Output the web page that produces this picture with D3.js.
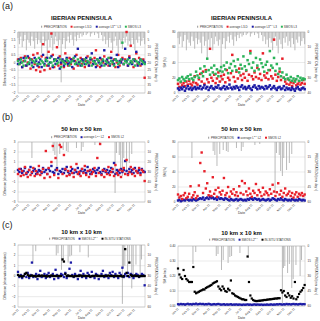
<!DOCTYPE html>
<html lang="en">
<head>
<meta charset="UTF-8">
<title>Soil moisture comparison</title>
<script src="https://d3js.org/d3.v7.min.js"></script>
<style>
  body { margin: 0; background: #fff; }
  svg { display: block; font-family: "Liberation Sans", Arial, sans-serif; }
</style>
</head>
<body>
<div id="chart"></div>
<script>
// one sample every 4 days starting 1 Jan 2011
const startDate = new Date(2011, 0, 1);
const endDate = new Date(2012, 0, 1);
const stepDays = 4;

// (a) Iberian Peninsula, differences
const redA = [0.2,-0.1,0.3,-0.3,0.1,0.4,-0.2,0.0,0.3,-0.4,0.2,0.5,-0.1,-0.5,0.6,-0.3,
  -0.6,0.4,1.2,-0.5,0.3,-0.2,0.7,-0.4,1.9,0.5,-0.3,0.2,1.0,-0.2,0.4,-0.1,
  0.1,-0.3,0.6,0.0,-0.2,0.3,-0.1,0.2,-0.4,0.1,0.5,-0.2,0.0,0.3,-0.1,0.2,
  -0.3,0.1,0.4,-0.2,0.0,0.2,-0.1,0.3,0.8,-0.2,0.1,-0.3,0.2,0.0,0.4,-0.1,
  0.1,-0.2,0.3,0.7,-0.1,0.2,-0.3,0.0,0.5,-0.2,0.1,0.3,-0.1,0.2,2.0,-0.2,
  0.4,1.1,0.0,-0.3,0.2,0.6,-0.1,0.3,-0.2,0.1,0.2,-1.0];
const blueA = [-0.1,0.2,0.0,-0.3,0.3,0.1,-0.2,0.4,-0.1,0.2,0.0,-0.3,0.3,0.1,-0.2,0.0,
  0.2,-0.3,0.5,-0.1,0.1,0.3,-0.2,0.0,0.4,-0.3,0.2,-0.1,0.1,0.3,-0.4,0.0,
  0.2,-0.2,0.1,0.3,-0.1,0.0,0.2,-0.3,0.1,0.4,-0.1,0.9,0.0,-0.2,0.2,0.1,
  -0.1,0.3,0.0,-0.2,0.2,0.6,-0.1,0.1,-0.3,0.2,0.0,0.3,-0.2,0.1,0.8,-0.1,
  0.2,0.0,-0.2,0.3,0.1,-0.1,0.2,0.5,-0.3,0.1,0.0,0.2,-0.1,0.9,0.1,-0.2,
  0.3,0.0,-0.1,0.2,0.1,0.7,-0.2,0.0,0.2,-0.1,0.1,0.0];
const greenA = [0.1,-0.1,0.2,0.0,-0.2,0.1,0.3,-0.1,0.0,0.2,-0.2,0.1,0.0,0.2,-0.1,0.3,
  -0.1,0.1,0.0,-0.2,0.2,0.1,-0.1,0.3,0.0,-0.2,0.1,0.2,-0.1,0.0,0.2,-0.3,
  0.1,0.0,-0.1,0.2,0.1,-0.2,0.0,0.1,0.3,-0.1,0.0,0.2,-0.1,0.1,-0.2,0.0,
  0.2,-0.1,0.1,0.0,0.3,-0.2,0.1,0.0,-0.1,0.2,0.1,-0.1,0.0,0.2,-0.2,0.1,
  0.0,0.3,-0.1,0.1,0.0,-0.2,0.2,0.1,-0.1,0.0,0.2,1.3,-0.1,0.1,0.0,0.2,
  -0.1,0.1,0.0,0.2,-0.2,0.1,0.0,-0.1,0.2,0.1,0.0,-0.1];

// (a) Iberian Peninsula, values
const redAR = [12,8,14,10,13,9,15,11,16,12,10,14,22,13,11,18,
  25,15,28,12,30,18,14,58,20,16,24,13,19,27,15,22,
  18,24,14,30,20,17,26,50,21,15,28,19,32,23,17,25,
  20,29,16,24,55,22,18,27,21,33,19,25,17,52,23,20,
  26,18,30,22,19,70,24,16,21,28,17,45,20,15,12,18,
  11,14,9,13,16,10,12,15,11,13,17,12];
const blueAR = [6,4,7,5,8,3,6,9,5,7,4,6,8,5,7,6,
  9,5,7,10,6,8,4,7,9,6,5,8,7,10,6,5,
  7,9,5,8,6,11,7,5,8,6,9,7,4,8,10,6,
  8,5,7,9,6,4,8,10,7,5,9,6,8,7,5,9,
  6,8,10,5,7,9,6,4,7,8,5,6,9,4,7,5,
  6,4,7,5,3,6,8,5,4,6,7,5];
const greenAR = [17,19,15,21,18,16,20,22,18,24,19,17,21,28,23,20,
  32,26,22,35,28,45,30,24,33,27,36,25,31,22,29,34,
  28,36,31,40,26,33,38,29,42,35,30,44,27,37,32,48,
  35,30,43,38,52,33,40,29,46,36,31,44,39,34,28,37,
  41,30,55,36,33,46,29,38,25,32,22,27,20,18,24,19,
  17,21,16,19,15,18,22,16,20,17,19,18];

// (b) 50 km x 50 km
const blueB = [0.2,0.0,0.3,-0.1,0.1,0.4,-0.2,0.0,0.2,0.5,-0.1,0.1,0.3,-0.2,0.0,0.2,
  0.1,-0.1,0.4,0.0,0.2,-0.2,0.3,0.1,0.6,0.0,-0.1,0.2,0.4,-0.2,0.1,0.0,
  0.3,-0.1,0.2,0.5,0.0,-0.2,0.1,0.3,-0.1,0.2,0.0,0.4,-0.2,0.1,0.3,0.0,
  0.2,-0.1,0.5,0.1,-0.2,0.0,0.3,0.1,-0.1,0.2,0.4,0.0,-0.2,0.1,0.3,0.0,
  0.2,-0.1,0.1,0.4,0.0,0.9,-0.2,0.2,0.1,-0.1,0.3,0.0,0.2,1.1,0.1,-0.2,
  0.3,0.0,0.2,-0.1,0.4,0.1,0.0,0.2,-0.1,0.3,0.1,0.0];
const redB = [-0.2,0.3,-0.4,0.1,-0.3,0.5,-0.1,-0.5,0.2,-0.3,0.0,0.4,-0.4,0.1,-0.2,0.6,
  -0.3,0.0,0.3,-0.6,2.1,-0.2,0.4,-0.5,1.0,2.6,-0.3,1.4,0.2,-0.6,2.7,2.5,
  -0.2,1.7,0.3,-0.4,0.1,-0.3,0.5,-0.1,-0.5,0.2,0.8,-0.2,0.0,-0.4,0.3,-0.1,
  0.6,-0.3,0.1,-0.5,0.2,-0.2,0.0,0.4,-0.4,1.4,-0.1,2.8,-0.3,0.2,-0.5,0.1,
  -0.2,0.5,-0.3,0.0,0.3,-0.4,0.7,-0.1,-0.3,0.2,-0.5,0.1,0.4,-0.2,1.2,-0.3,
  0.0,0.5,-0.2,0.3,-0.4,0.1,-0.1,0.4,-0.3,0.2,0.0,-0.9];
const blueBR = [2,3,1,2,3,2,4,3,2,3,2,4,3,2,3,4,
  5,4,6,3,5,6,4,7,5,6,4,5,3,6,4,5,
  4,3,5,4,3,2,4,3,2,3,4,2,3,4,3,2,
  3,2,4,3,5,4,3,5,4,3,4,2,3,4,3,2,
  3,4,2,3,5,4,3,2,4,3,5,3,2,4,3,2,
  3,2,4,3,2,3,2,4,3,2,3,2];
const redBR = [10,6,8,4,9,12,5,7,11,21,6,9,13,5,8,22,
  52,66,12,41,18,25,9,14,8,33,11,16,7,19,13,10,
  15,32,9,12,20,7,14,11,17,9,13,8,21,12,28,10,
  25,14,9,18,11,7,15,12,24,9,16,13,8,19,10,14,
  12,9,17,11,23,14,8,13,25,10,15,7,12,18,9,11,
  14,8,12,6,10,13,7,11,9,12,8,10];

// (c) 10 km x 10 km
const blueC = [0.4,-0.1,0.1,-0.2,0.0,0.2,-0.1,0.3,-0.2,0.1,1.3,-0.1,0.0,0.2,-0.3,0.1,
  0.5,-0.1,0.0,0.2,-0.2,0.1,0.3,-0.1,0.0,0.2,-0.3,0.6,0.1,-0.2,0.0,0.2,
  0.1,-0.1,0.3,-0.2,0.0,0.7,1.3,0.1,-0.1,0.2,0.0,-0.3,0.1,0.5,-0.1,0.2,
  0.0,-0.2,0.3,0.1,-0.1,0.4,0.0,-0.2,0.2,0.1,-0.3,0.0,0.2,0.5,-0.1,0.1,
  0.0,-0.2,0.3,0.1,0.4,-0.1,0.2,0.0,-0.2,0.3,0.1,0.8,-0.1,0.2,0.0,0.3,
  -0.1,0.2,0.1,-0.2,0.0,0.2,0.1,-0.1,0.0,0.2,0.1,-0.9];
const blackC = [0.1,0.0,0.0,-0.05,0.0,0.2,0.3,0.1,0.0,0.0,0.05,0.0,0.0,-0.05,0.0,0.0,
  0.0,0.05,0.0,0.0,0.0,-0.05,0.0,0.0,0.05,0.0,0.0,0.0,0.0,0.0,0.0,0.0,
  1.6,1.4,0.2,0.0,0.05,0.0,0.0,0.0,-0.05,0.0,0.0,0.0,0.0,0.05,0.0,0.0,
  0.0,0.0,0.0,0.0,-0.05,0.0,0.0,0.0,0.05,0.0,0.0,0.0,0.0,0.0,0.0,0.0,
  0.0,0.05,0.0,0.0,0.0,0.0,0.0,0.0,0.0,0.0,0.0,-0.05,0.0,2.6,0.3,0.0,
  1.3,0.1,0.0,0.0,0.05,0.0,0.0,-0.05,0.0,0.0,0.0,0.0];
const blueCR = [0.012,0.010,0.014,0.011,0.013,0.009,0.012,0.015,0.011,0.013,0.010,0.014,0.012,0.016,0.011,0.013,
  0.015,0.012,0.014,0.010,0.013,0.011,0.015,0.012,0.009,0.011,0.013,0.010,0.012,0.014,0.011,0.009,
  0.010,0.012,0.008,0.011,0.009,0.010,0.012,0.008,0.010,0.009,0.011,0.008,0.010,0.009,0.007,0.010,
  0.008,0.009,0.011,0.008,0.010,0.007,0.009,0.011,0.008,0.010,0.009,0.008,0.010,0.007,0.009,0.008,
  0.010,0.008,0.009,0.011,0.008,0.010,0.009,0.012,0.010,0.013,0.011,0.009,0.012,0.010,0.014,0.011,
  0.013,0.010,0.012,0.014,0.011,0.013,0.010,0.012,0.014,0.011,0.013,0.012];
const blackCR = [0.25,0.21,0.19,0.18,0.24,0.20,0.18,0.17,0.16,0.16,0.16,0.26,
  0.095,0.085,0.09,0.095,0.10,0.105,0.11,0.11,0.12,0.125,0.13,0.135,0.14,0.15,0.155,0.16,0.165,
  0.13,0.115,0.105,0.13,0.115,0.10,0.095,0.115,0.105,0.17,0.085,0.08,0.07,0.065,0.06,0.055,0.05,0.045,0.045,0.04,0.04,
  0.33,0.16,0.07,0.05,0.04,0.035,
  0.033,0.033,0.035,0.035,0.037,0.038,0.04,0.04,0.042,0.043,0.045,0.045,0.047,0.048,0.05,0.05,0.052,0.052,
  0.105,0.09,0.10,0.07,0.06,0.085,0.07,0.055,0.065,0.05,0.16,0.045,0.06,0.08,0.095,0.105,0.12,0.14];

// precipitation (mm/day)
const precipA = [4,8,3,10,6,2,12,5,7,9,3,6,11,4,8,5,
  7,14,3,9,6,18,5,10,4,12,8,3,6,9,5,33,
  8,4,11,6,3,7,2,5,9,3,6,2,4,1,3,2,
  0,2,1,0,3,1,0,2,0,1,4,0,2,6,3,8,
  5,10,4,7,12,6,3,9,14,5,8,11,4,7,3,9,
  6,10,4,8,12,5,7,3,9,6,4,8];
const precipADays = precipA.map((_, i) => i * stepDays);
const precipBDays = [40,101,106,112,120,130,139,144,168,182,187,221,235,279,283,291,295,300,304,312,320,327];
const precipBmm   = [16,9,13,24,12,8,9,10,6,9,5,3,2,51,11,13,29,34,16,28,21,12];
const precipCDays = [43,51,110,115,125,130,144,149,154,178,202,300,303,307,315,320,327,331,339,351,355];
const precipCmm   = [18,6,10,8,24,14,17,11,10,7,12,57,22,20,27,18,42,33,19,30,14];

const RED = '#e8202a', BLUE = '#1c1ca6', GREEN = '#2bb35a', BLACK = '#000', GREY = '#a8a8a8';

const svg = d3.select('#chart').append('svg')
  .attr('width', 320).attr('height', 321);

const fmt1 = d => d3.format('.1~f')(d);

const panels = [
  { x0: 18, x1: 145, y0: 32, y1: 93, yDomain: [-2, 2], yStep: 0.5, yFmt: fmt1,
    pMax: 40, pStep: 5, pDays: precipADays, pMm: precipA,
    series: [[redA, RED], [blueA, BLUE], [greenA, GREEN]], size: 2.4,
    title: 'IBERIAN PENINSULA', titleY: 20, legY: 27, legX: 41, dateY: 106,
    yTitle: 'Difference (observations/estimates)',
    legend: [{ c: GREY, bar: true, t: 'PRECIPITATION' }, { c: RED, t: 'average L3-D' },
             { c: BLUE, t: 'average L3', sup: '2.x', post: '   L3' }, { c: GREEN, t: 'SMOS L3' }] },
  { x0: 178, x1: 305, y0: 32, y1: 93, yDomain: [0, 80], yStep: 20, yFmt: d3.format('d'),
    pMax: 40, pStep: 10, pDays: precipADays, pMm: precipA,
    series: [[redAR, RED], [blueAR, BLUE], [greenAR, GREEN]], size: 2.5,
    title: 'IBERIAN PENINSULA', titleY: 20, legY: 27, legX: 197, dateY: 106,
    yTitle: 'SM (%)',
    legend: [{ c: GREY, bar: true, t: 'PRECIPITATION' }, { c: RED, t: 'average L3-D' },
             { c: BLUE, t: 'average L3', sup: '2.x', post: '   L3' }, { c: GREEN, t: 'SMOS L3' }] },
  { x0: 18, x1: 145, y0: 142, y1: 202, yDomain: [-3, 3], yStep: 1, yFmt: d3.format('d'),
    pMax: 60, pStep: 10, pDays: precipBDays, pMm: precipBmm,
    series: [[blueB, BLUE], [redB, RED]], size: 2.4,
    title: '50 km x 50 km', titleY: 131, legY: 137.5, legX: 51, dateY: 214,
    yTitle: 'Difference (observations/estimates)',
    legend: [{ c: GREY, bar: true, t: 'PRECIPITATION' },
             { c: BLUE, t: 'average L', sup: '3.x', post: ' L2' }, { c: RED, t: 'SMOS L2' }] },
  { x0: 178, x1: 305, y0: 142, y1: 202, yDomain: [0, 80], yStep: 20, yFmt: d3.format('d'),
    pMax: 60, pStep: 15, pDays: precipBDays, pMm: precipBmm,
    series: [[blueBR, BLUE], [redBR, RED]], size: 2.4,
    title: '50 km x 50 km', titleY: 131, legY: 138, legX: 208, dateY: 214,
    yTitle: 'SM (%)',
    legend: [{ c: GREY, bar: true, t: 'PRECIPITATION' },
             { c: BLUE, t: 'average L', sup: '3.x', post: ' L2' }, { c: RED, t: 'SMOS L2' }] },
  { x0: 18, x1: 145, y0: 245, y1: 307, yDomain: [-3, 3], yStep: 1, yFmt: d3.format('d'),
    pMax: 60, pStep: 10, pDays: precipCDays, pMm: precipCmm,
    series: [[blueC, BLUE], [blackC, BLACK]], size: 2.3,
    title: '10 km x 10 km', titleY: 234, legY: 239, legX: 49, dateY: 319,
    yTitle: 'Difference (observations/estimates)',
    legend: [{ c: GREY, bar: true, t: 'PRECIPITATION' },
             { c: BLUE, t: 'SMOS L2', sup: '3.x' }, { c: BLACK, t: 'IN-SITU STATIONS' }] },
  { x0: 178, x1: 305, y0: 246, y1: 306, yDomain: [0, 0.4], yStep: 0.1, yFmt: d3.format('.2f'),
    pMax: 60, pStep: 15, pDays: precipCDays, pMm: precipCmm,
    series: [[blueCR, BLUE], [blackCR, BLACK]], size: 2.2,
    title: '10 km x 10 km', titleY: 235, legY: 240, legX: 209, dateY: 319,
    yTitle: 'SM (m³/m³)',
    legend: [{ c: GREY, bar: true, t: 'PRECIPITATION' },
             { c: BLUE, t: 'SMOS L2', sup: '3.x' }, { c: BLACK, t: 'IN-SITU STATIONS' }] }
];

const dayToDate = d => d3.timeDay.offset(startDate, d);
const monthTicks = d3.timeMonth.range(startDate, endDate);
const monthFmt = d3.timeFormat('%b-%y');

panels.forEach(p => {
  const g = svg.append('g');
  const x = d3.scaleTime().domain([startDate, endDate]).range([p.x0, p.x1]);
  const y = d3.scaleLinear().domain(p.yDomain).range([p.y1, p.y0]);
  const yp = d3.scaleLinear().domain([0, p.pMax]).range([p.y0, p.y1]);
  const yTicks = d3.range(p.yDomain[0], p.yDomain[1] + p.yStep / 2, p.yStep);
  const pTicks = d3.range(0, p.pMax + p.pStep / 2, p.pStep);

  // grid
  g.selectAll('.grid').data(yTicks).enter().append('line')
    .attr('x1', p.x0).attr('x2', p.x1)
    .attr('y1', d => y(d)).attr('y2', d => y(d))
    .attr('stroke', '#d4d4d4').attr('stroke-width', 0.5);
  g.append('rect').attr('x', p.x0).attr('y', p.y0)
    .attr('width', p.x1 - p.x0).attr('height', p.y1 - p.y0)
    .attr('fill', 'none').attr('stroke', '#b0b0b0').attr('stroke-width', 0.5);

  // precipitation bars hanging from the top
  g.selectAll('.pr').data(p.pDays.map((d, i) => [d, p.pMm[i]])).enter().append('line')
    .attr('x1', d => x(dayToDate(d[0]))).attr('x2', d => x(dayToDate(d[0])))
    .attr('y1', p.y0).attr('y2', d => yp(d[1]))
    .attr('stroke', GREY).attr('stroke-width', 0.8);

  // series
  p.series.forEach(([vals, col]) => {
    g.selectAll(null).data(vals).enter().append('rect')
      .attr('x', (d, i) => x(dayToDate(i * stepDays)) - p.size / 2)
      .attr('y', d => y(d) - p.size / 2)
      .attr('width', p.size).attr('height', p.size)
      .attr('fill', col);
  });

  // left ticks
  g.selectAll('.yl').data(yTicks).enter().append('text')
    .attr('x', p.x0 - 2.5).attr('y', d => y(d) + 1)
    .attr('text-anchor', 'end').attr('font-size', 3).attr('fill', '#333')
    .text(p.yFmt);
  // right ticks (precipitation, inverted)
  g.selectAll('.pl').data(pTicks).enter().append('text')
    .attr('x', p.x1 + 2.5).attr('y', d => yp(d) + 1)
    .attr('font-size', 3).attr('fill', '#333')
    .text(d3.format('d'));

  // date ticks
  g.selectAll('.xl').data(monthTicks).enter().append('text')
    .attr('transform', d => `translate(${x(d) + 1},${p.y1 + 3}) rotate(-45)`)
    .attr('text-anchor', 'end').attr('font-size', 3).attr('fill', '#333')
    .text(monthFmt);

  const cx = (p.x0 + p.x1) / 2;
  g.append('text').attr('x', cx).attr('y', p.dateY)
    .attr('text-anchor', 'middle').attr('font-size', 3.4).attr('fill', '#333').text('Date');

  g.append('text')
    .attr('transform', `translate(${p.x0 - 12},${(p.y0 + p.y1) / 2}) rotate(-90)`)
    .attr('text-anchor', 'middle').attr('font-size', 3).attr('fill', '#333').text(p.yTitle);
  g.append('text')
    .attr('transform', `translate(${p.x1 + 10},${(p.y0 + p.y1) / 2}) rotate(90)`)
    .attr('text-anchor', 'middle').attr('font-size', 3).attr('fill', '#333')
    .text('PRECIPITATION (mm day⁻¹)');

  g.append('text').attr('x', cx).attr('y', p.titleY)
    .attr('text-anchor', 'middle').attr('font-size', 6).attr('font-weight', 'bold')
    .attr('fill', '#111').text(p.title);

  // legend
  let lx = p.legX;
  p.legend.forEach(it => {
    g.append('rect').attr('x', lx).attr('y', p.legY - 1.3)
      .attr('width', it.bar ? 1.2 : 2).attr('height', 2).attr('fill', it.c);
    const t = g.append('text').attr('x', lx + 3).attr('y', p.legY + 0.8)
      .attr('font-size', 3).attr('fill', '#333').text(it.t);
    if (it.sup) {
      t.append('tspan').attr('dy', -1.6).attr('font-size', 2.2).text(it.sup);
      if (it.post) t.append('tspan').attr('dy', 1.6).text(it.post);
    }
    lx += 3 + t.node().getComputedTextLength() + 4;
  });
});

// panel letters
[['(a)', 9], ['(b)', 120], ['(c)', 228]].forEach(([s, yy]) => {
  svg.append('text').attr('x', 2).attr('y', yy)
    .attr('font-size', 9).attr('fill', '#222').text(s);
});
</script>
</body>
</html>
